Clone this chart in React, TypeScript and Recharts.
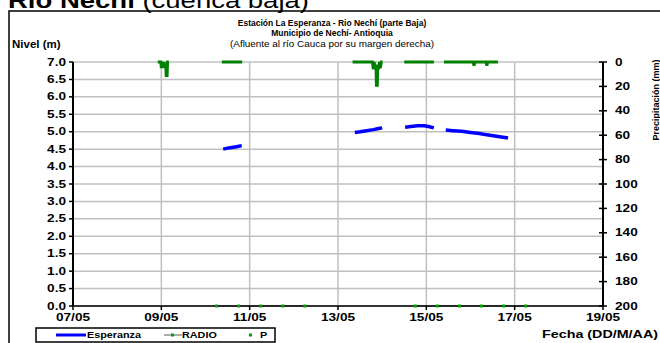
import React from "react";
import { CartesianGrid, ComposedChart, Line, XAxis, YAxis } from "recharts";

const FONT = "'Liberation Sans', Arial, sans-serif";
const STRETCH = 1.24; // the reference text is drawn wide

// x = days since 07/05 00:00
const DATE_TICKS = [0, 2, 4, 6, 8, 10, 12];
const DATE_LABELS = ["07/05", "09/05", "11/05", "13/05", "15/05", "17/05", "19/05"];
const LEVEL_TICKS = [0, 0.5, 1, 1.5, 2, 2.5, 3, 3.5, 4, 4.5, 5, 5.5, 6, 6.5, 7];
const RAIN_TICKS = [0, 20, 40, 60, 80, 100, 120, 140, 160, 180, 200];

// Nivel Esperanza (m); null breaks the line
const ESPERANZA: [number, number | null][] = [
  [3.4, 4.5], [3.5, 4.53], [3.6, 4.55], [3.7, 4.57], [3.82, 4.6], [3.9, null],
  [6.38, 4.98], [6.5, 5.0], [6.65, 5.03], [6.8, 5.06], [6.92, 5.09], [7.0, 5.11], [7.1, null],
  [7.52, 5.13], [7.65, 5.15], [7.8, 5.17], [7.95, 5.17], [8.05, 5.15], [8.17, 5.11], [8.25, null],
  [8.44, 5.05], [8.6, 5.03], [8.8, 5.01], [9.0, 4.98], [9.2, 4.95], [9.37, 4.91],
  [9.55, 4.88], [9.7, 4.85], [9.85, 4.82],
];

// Precipitación RADIO (mm), right axis reversed
const RADIO: [number, number | null][] = [
  [1.92, 0], [1.99, 0], [2.0, 5], [2.02, 0], [2.04, 5], [2.06, 0], [2.08, 5], [2.1, 1],
  [2.11, 11], [2.13, 11], [2.14, 0], [2.17, 0], [2.2, null],
  [3.37, 0], [3.83, 0], [3.9, null],
  [6.33, 0], [6.78, 0], [6.8, 6], [6.82, 0], [6.84, 6], [6.86, 2], [6.87, 19], [6.89, 19],
  [6.9, 2], [6.92, 6], [6.94, 0], [6.96, 5], [6.98, 0], [7.01, 0], [7.1, null],
  [7.5, 0], [8.17, 0], [8.25, null],
  [8.4, 0], [9.06, 0], [9.08, 3], [9.1, 0], [9.35, 0], [9.37, 3], [9.39, 0], [9.62, 0],
];

// P readings (every 12 h)
const P: [number, number | null][] = [
  [3.25, 0], [3.75, 0], [4.25, 0], [4.75, 0], [5.25, 0], [6.5, null],
  [7.75, 0], [8.25, 0], [8.75, 0], [9.25, 0], [9.75, 0], [10.25, 0],
];

const toRows = (arr: [number, number | null][]) => arr.map(([t, v]) => ({ t, v }));

function SText({ x, y, anchor = "start", size = 11, weight = "bold", sx = STRETCH, children }: any) {
  return (
    <text
      x={0}
      y={0}
      transform={`translate(${x},${y}) scale(${sx},1)`}
      textAnchor={anchor}
      dominantBaseline="central"
      fontFamily={FONT}
      fontSize={size}
      fontWeight={weight}
      fill="#000"
    >
      {children}
    </text>
  );
}

const LeftTick = ({ x, y, payload }: any) => (
  <SText x={x - 1} y={y} anchor="end">{Number(payload.value).toFixed(1)}</SText>
);

const RightTick = ({ x, y, payload }: any) => {
  const ax = x - 12;
  return (
    <g>
      <line x1={ax - 4} x2={ax + 4} y1={y} y2={y} stroke="#000" strokeWidth={1.5} />
      <SText x={x} y={y}>{payload.value}</SText>
    </g>
  );
};

const DateTick = ({ x, y, payload }: any) => (
  <SText x={x} y={y + 5} anchor="middle">{DATE_LABELS[DATE_TICKS.indexOf(payload.value)]}</SText>
);

const GreenDot = ({ cx, cy }: any) =>
  cx == null || cy == null ? null : (
    <rect x={cx - 1.5} y={cy - 1.5} width={3} height={3} fill="#00a000" />
  );

export default function App() {
  return (
    <div style={{ position: "absolute", left: 0, top: 0, width: 660, height: 343, overflow: "hidden", background: "#fff" }}>
      <ComposedChart width={660} height={343} margin={{ top: 62, right: 0, bottom: 0, left: 0 }}>
        <CartesianGrid yAxisId="left" stroke="#c0c0c0" strokeWidth={1.5} />
        <XAxis
          type="number"
          dataKey="t"
          domain={[0, 12]}
          ticks={DATE_TICKS}
          interval={0}
          height={37}
          tickSize={4}
          tick={<DateTick />}
          axisLine={{ stroke: "#000", strokeWidth: 1.5 }}
          tickLine={{ stroke: "#000", strokeWidth: 1.5 }}
        />
        <YAxis
          yAxisId="left"
          domain={[0, 7]}
          ticks={LEVEL_TICKS}
          interval={0}
          width={73}
          tickSize={4}
          tick={<LeftTick />}
          axisLine={{ stroke: "#000", strokeWidth: 2 }}
          tickLine={{ stroke: "#000", strokeWidth: 1.5 }}
        />
        <YAxis
          yAxisId="right"
          orientation="right"
          domain={[0, 200]}
          reversed
          ticks={RAIN_TICKS}
          interval={0}
          width={57}
          tickSize={4}
          tickMargin={8}
          tickLine={false}
          tick={<RightTick />}
          axisLine={{ stroke: "#000", strokeWidth: 2 }}
        />
        <Line
          yAxisId="left"
          data={toRows(P)}
          dataKey="v"
          stroke="#909090"
          strokeWidth={1.5}
          dot={<GreenDot />}
          isAnimationActive={false}
        />
        <Line
          yAxisId="right"
          data={toRows(RADIO)}
          dataKey="v"
          stroke="#008000"
          strokeWidth={3}
          dot={false}
          isAnimationActive={false}
        />
        <Line
          yAxisId="left"
          data={toRows(ESPERANZA)}
          dataKey="v"
          stroke="#0000ff"
          strokeWidth={3.5}
          dot={false}
          isAnimationActive={false}
        />
      </ComposedChart>

      <svg width={660} height={343} style={{ position: "absolute", left: 0, top: 0, pointerEvents: "none" }}>
        <text x={0} y={0} transform="translate(8,8) scale(1.25,1)" fontFamily={FONT} fontSize={22} fill="#000">
          <tspan fontWeight="bold">Rio Nechí</tspan>
          <tspan> (cuenca baja)</tspan>
        </text>
        <rect x={9} y={11} width={700} height={400} fill="none" stroke="#000" strokeWidth={1.5} />
        <SText x={332} y={23} anchor="middle" size={8.5} sx={1.0}>Estación La Esperanza - Rio Nechí  (parte Baja)</SText>
        <SText x={332} y={33} anchor="middle" size={8.5} sx={1.0}>Municipio de Nechí- Antioquia</SText>
        <SText x={332} y={43.5} anchor="middle" size={9} weight="normal" sx={1.1}>(Afluente al río Cauca por su margen derecha)</SText>
        <SText x={12} y={44} size={10} sx={1.15}>Nivel (m)</SText>
        <g transform="translate(656,100) rotate(-90)">
          <text x={0} y={0} textAnchor="middle" dominantBaseline="central" fontFamily={FONT} fontSize={9} fontWeight="bold">
            Precipitación (mm)
          </text>
        </g>
        <SText x={658} y={334} anchor="end" size={11} sx={1.3}>Fecha (DD/M/AA)</SText>

        <rect x={36} y={328} width={239} height={14} fill="#fff" stroke="#000" strokeWidth={1.5} />
        <line x1={56} x2={86} y1={335} y2={335} stroke="#0000ff" strokeWidth={3} />
        <SText x={87} y={335} size={9} sx={1.2}>Esperanza</SText>
        <line x1={164} x2={182} y1={335} y2={335} stroke="#909090" strokeWidth={1.5} />
        <rect x={171} y={333.5} width={3} height={3} fill="#00a000" />
        <SText x={182} y={335} size={9} sx={1.2}>RADIO</SText>
        <rect x={249} y={333.5} width={3} height={3} fill="#00a000" />
        <SText x={260} y={335} size={9} sx={1.2}>P</SText>
      </svg>
    </div>
  );
}
